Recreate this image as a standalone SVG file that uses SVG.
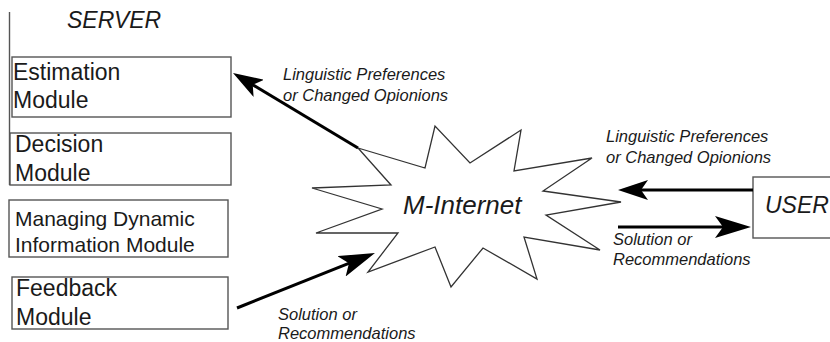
<svg xmlns="http://www.w3.org/2000/svg" width="830" height="342" viewBox="0 0 830 342">
<style>
  .box { fill: #ffffff; stroke: #555555; stroke-width: 1.4; }
  .t { font-family: "Liberation Sans", Arial, sans-serif; fill: #1a1a1a; }
  .mod { font-size: 23px; }
  .mod2 { font-size: 21px; }
  .it { font-style: italic; }
  .lbl { font-size: 16.5px; font-style: italic; }
  .star { fill: #ffffff; stroke: #333333; stroke-width: 1.3; stroke-linejoin: miter; }
  .arr { stroke: #000000; stroke-width: 3; fill: none; }
</style>
<defs>
  <marker id="head" markerUnits="userSpaceOnUse" viewBox="0 0 30 20" refX="20" refY="10" markerWidth="30" markerHeight="20" orient="auto">
    <path d="M30,10 L0,0 L7,10 L0,20 Z" fill="#000000"/>
  </marker>
  <marker id="headL" markerUnits="userSpaceOnUse" viewBox="0 0 36 22" refX="26" refY="11" markerWidth="36" markerHeight="22" orient="auto">
    <path d="M36,11 L0,0 L8,11 L0,22 Z" fill="#000000"/>
  </marker>
</defs>
<rect width="830" height="342" fill="#ffffff"/>

<g id="server">
  <line x1="9.5" y1="12" x2="9.5" y2="185" stroke="#555555" stroke-width="1.4"/>
  <text class="t it" x="67" y="28" font-size="23">SERVER</text>
</g>

<g id="estimation">
  <rect class="box" x="12" y="57" width="219" height="60"/>
  <text class="t mod" x="13" y="80">Estimation</text>
  <text class="t mod" x="13" y="108">Module</text>
</g>

<g id="decision">
  <rect class="box" x="10" y="133" width="221" height="52"/>
  <text class="t mod" x="15" y="152">Decision</text>
  <text class="t mod" x="15" y="181">Module</text>
</g>

<g id="managing">
  <rect class="box" x="9" y="200" width="219" height="57"/>
  <text class="t mod2" x="15" y="226">Managing Dynamic</text>
  <text class="t mod2" x="15" y="252">Information Module</text>
</g>

<g id="feedback">
  <rect class="box" x="12" y="277" width="216" height="52"/>
  <text class="t mod" x="16" y="296">Feedback</text>
  <text class="t mod" x="16" y="325">Module</text>
</g>

<g id="internet">
  <polygon class="star" points="358,148 425,168 435,126 470,163 521,130 514,171 592,158 543,191 621,202 546,215 600,250 524,237 537,279 483,248 451,287 435,247 368,272 398,233 316,233 382,209 312,188 391,185"/>
  <text class="t it" x="403" y="214" font-size="26">M-Internet</text>
</g>

<g id="user">
  <rect class="box" x="753" y="177" width="90" height="61"/>
  <text class="t it" x="765" y="213" font-size="23">USER</text>
</g>

<g id="connectors">
  <line class="arr" x1="358" y1="148" x2="241.6" y2="78.1" marker-end="url(#head)"/>
  <line class="arr" x1="237" y1="308" x2="365.7" y2="256.7" marker-end="url(#headL)"/>
  <line class="arr" x1="753" y1="190" x2="628" y2="190" marker-end="url(#head)"/>
  <line class="arr" x1="618" y1="227" x2="741" y2="227" marker-end="url(#headL)"/>
  <text class="t lbl" x="283" y="80">Linguistic Preferences</text>
  <text class="t lbl" x="283" y="101">or Changed Opionions</text>
  <text class="t lbl" x="278" y="320">Solution or</text>
  <text class="t lbl" x="278" y="339">Recommendations</text>
  <text class="t lbl" x="606" y="142">Linguistic Preferences</text>
  <text class="t lbl" x="606" y="163">or Changed Opionions</text>
  <text class="t lbl" x="613" y="245">Solution or</text>
  <text class="t lbl" x="613" y="265">Recommendations</text>
</g>
</svg>
